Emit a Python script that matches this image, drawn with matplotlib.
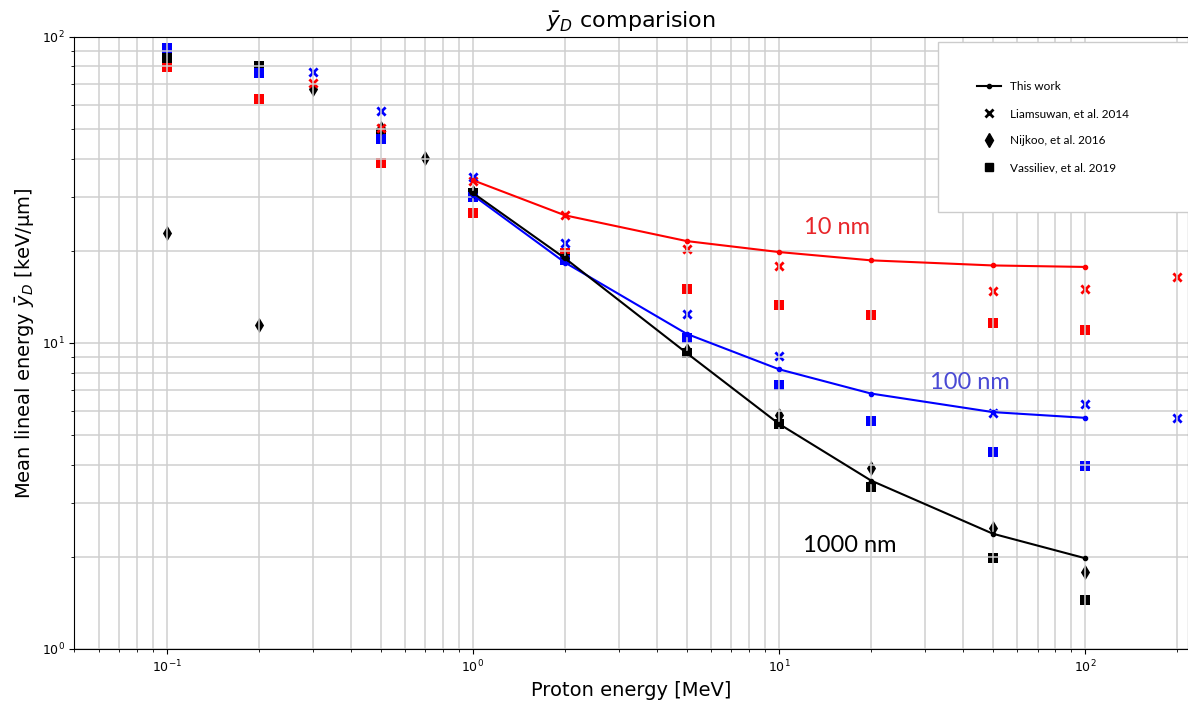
import numpy as np
import matplotlib.pyplot as plt
from matplotlib.lines import Line2D

# "This work" curves
energy = [1, 2, 5, 10, 20, 50, 100]
work_10nm = [34.0, 26.1, 21.5, 19.8, 18.6, 17.9, 17.7]
work_100nm = [30.4, 18.3, 10.7, 8.2, 6.83, 5.94, 5.69]
work_1000nm = [30.9, 18.9, 9.26, 5.44, 3.55, 2.38, 1.98]

# Liamsuwan et al. 2014 (x markers)
liam_10nm_x = [0.3, 0.5, 1, 2, 5, 10, 50, 100, 200]
liam_10nm_y = [70.7, 50.4, 33.7, 26.1, 20.2, 17.8, 14.8, 15.0, 16.4]
liam_100nm_x = [0.3, 0.5, 1, 2, 5, 10, 50, 100, 200]
liam_100nm_y = [76.8, 57.3, 34.8, 21.2, 12.4, 9.03, 5.88, 6.32, 5.67]

# Nijkoo et al. 2016 (diamonds)
nijk_x = [0.1, 0.2, 0.3, 0.5, 0.7, 1, 2, 5, 10, 20, 50, 100]
nijk_y = [22.8, 11.4, 67.6, 50.4, 40.1, 31.0, 19.0, 9.5, 5.82, 3.90, 2.49, 1.79]

# Vassiliev et al. 2019 (squares)
vass_x = [0.1, 0.2, 0.5, 1, 2, 5, 10, 20, 50, 100]
vass_10nm = [79.9, 62.5, 38.6, 26.5, 19.7, 15.0, 13.3, 12.3, 11.6, 11.0]
vass_100nm = [91.8, 76.1, 46.5, 29.9, 18.6, 10.4, 7.31, 5.55, 4.41, 3.97]
vass_1000nm = [85.2, 80.5, 48.5, 30.8, 18.8, 9.3, 5.45, 3.37, 1.98, 1.45]

fig = plt.figure(figsize=(11.88, 7.02), dpi=100)
ax = fig.add_axes([0.0627, 0.0755, 0.9373, 0.8722])

# literature points (scatter -> grid drawn over them)
ax.scatter(vass_x, vass_10nm, marker='s', s=48, color='red', lw=0)
ax.scatter(vass_x, vass_1000nm, marker='s', s=48, color='black', lw=0)
ax.scatter(vass_x, vass_100nm, marker='s', s=48, color='blue', lw=0)
ax.scatter(nijk_x, nijk_y, marker='d', s=60, color='black', lw=0)
ax.scatter(liam_10nm_x, liam_10nm_y, marker='x', s=35, color='red', lw=2)
ax.scatter(liam_100nm_x, liam_100nm_y, marker='x', s=35, color='blue', lw=2)

ax.plot(energy, work_10nm, '-', marker='.', ms=6, color='red', lw=1.5)
ax.plot(energy, work_100nm, '-', marker='.', ms=6, color='blue', lw=1.5)
ax.plot(energy, work_1000nm, '-', marker='.', ms=6, color='black', lw=1.5)

ax.set_xscale('log')
ax.set_yscale('log')
ax.set_xlim(0.05, 217)
ax.set_ylim(1, 100)
ax.grid(True, which='both', color='#cfcfcf', lw=1.1)
ax.tick_params(labelsize=9)

ax.text(15.5, 23.9, "10 nm", color='#e8262a', fontsize=17, family='Lato',
        ha='center', va='center')
ax.text(42.1, 7.43, "100 nm", color='#4a4ad4', fontsize=17, family='Lato',
        ha='center', va='center')
ax.text(17.1, 2.17, "1000 nm", color='black', fontsize=17, family='Lato',
        ha='center', va='center')

ax.set_title(r"$\bar{y}_D$ comparision", fontsize=16)
ax.set_xlabel("Proton energy [MeV]", fontsize=14)
ax.set_ylabel(r"Mean lineal energy $\bar{y}_D$ [keV/μm]", fontsize=14)

handles = [
    Line2D([], [], color='black', marker='.', ms=6, lw=1.5),
    Line2D([], [], color='black', marker='x', ls='none', ms=6, mew=2),
    Line2D([], [], color='black', marker='d', ls='none', ms=7),
    Line2D([], [], color='black', marker='s', ls='none', ms=6),
]
labels = ["This work", "Liamsuwan, et al. 2014", "Nijkoo, et al. 2016",
          "Vassiliev, et al. 2019"]
leg = ax.legend(handles, labels, loc='upper left',
                bbox_to_anchor=(0.7755, 0.5, 0.235, 0.491), mode='expand',
                borderaxespad=0, borderpad=3.3, labelspacing=1.35,
                fancybox=False, framealpha=1, edgecolor='#cccccc',
                prop={'family': 'Lato', 'size': 8.5})

plt.savefig("out.png", dpi=100)
